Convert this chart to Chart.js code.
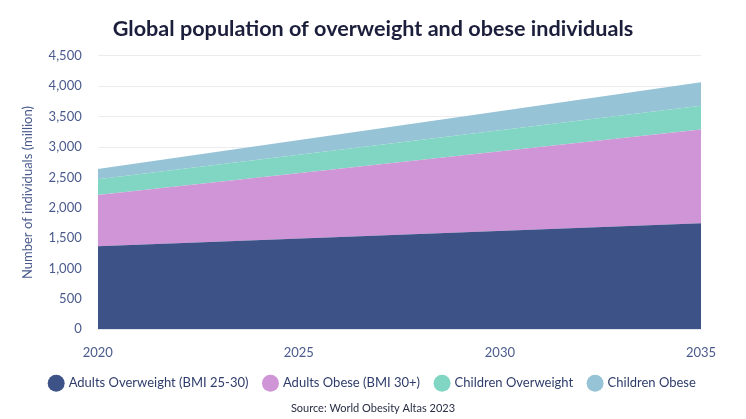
<!DOCTYPE html>
<html>
<head>
<meta charset="utf-8">
<script src="https://cdn.jsdelivr.net/npm/chart.js@4/dist/chart.umd.min.js"></script>
<style>
html,body{margin:0;padding:0;background:#fff;}
#wrap{width:746px;height:419px;position:relative;}
</style>
</head>
<body>
<div id="wrap"><canvas id="c" width="746" height="419"></canvas></div>
<script>
const years = [2020, 2035];
const adultsOverweight = [1365, 1745];
const adultsObese = [845, 1545];
const childrenOverweight = [260, 390];
const childrenObese = [170, 385];
const seriesNames = ['Adults Overweight (BMI 25-30)', 'Adults Obese (BMI 30+)', 'Children Overweight', 'Children Obese'];
const seriesColors = ['#3d5287', '#cf95d6', '#80d6c3', '#96c3d6'];
const seriesValues = [adultsOverweight, adultsObese, childrenOverweight, childrenObese];

const FONT = 'Lato, "Open Sans", sans-serif';
const tickColor = '#4a5a8c';

const datasets = seriesValues.map((vals, i) => ({
  label: seriesNames[i],
  data: years.map((y, j) => ({x: y, y: vals[j]})),
  backgroundColor: seriesColors[i],
  borderColor: seriesColors[i],
  borderWidth: 0,
  pointRadius: 0,
  pointHoverRadius: 0,
  tension: 0,
  fill: i === 0 ? 'origin' : '-1'
}));

new Chart(document.getElementById('c'), {
  type: 'line',
  data: { datasets },
  options: {
    responsive: false,
    animation: false,
    layout: { padding: { top: 0, right: 0, bottom: 4, left: 0 } },
    plugins: {
      tooltip: { enabled: false },
      title: {
        display: true,
        text: 'Global population of overweight and obese individuals',
        color: '#1c1f3b',
        font: { family: FONT, size: 21.6, weight: 'bold' },
        padding: { top: 16, bottom: 14 }
      },
      subtitle: {
        display: true,
        position: 'bottom',
        text: 'Source: World Obesity Altas 2023',
        color: '#2a2d45',
        font: { family: FONT, size: 11 },
        padding: { top: 2, bottom: 0 }
      },
      legend: {
        position: 'bottom',
        labels: {
          usePointStyle: true,
          pointStyle: 'circle',
          boxWidth: 12,
          boxHeight: 12,
          padding: 16,
          color: '#2f3d6b',
          font: { family: FONT, size: 13 }
        }
      }
    },
    scales: {
      x: {
        type: 'linear',
        min: 2020,
        max: 2035,
        ticks: { stepSize: 5, color: tickColor, font: { family: FONT, size: 13 }, padding: 16, callback: v => String(v) },
        grid: { display: false, drawTicks: false },
        border: { display: true, color: '#e6e6ee' },
        afterFit: s => { s.paddingRight = 45; s.height -= 16; }
      },
      y: {
        stacked: true,
        min: 0,
        max: 4500,
        ticks: { stepSize: 500, color: tickColor, font: { family: FONT, size: 13 }, padding: 16,
          callback: v => v.toLocaleString('en-US') },
        grid: { color: '#ebebf0', drawTicks: false },
        border: { display: false },
        title: { display: true, text: 'Number of individuals (million)', color: tickColor,
          font: { family: FONT, size: 13 }, padding: { top: 20, bottom: -3 } }
      }
    }
  }
});
</script>
</body>
</html>
